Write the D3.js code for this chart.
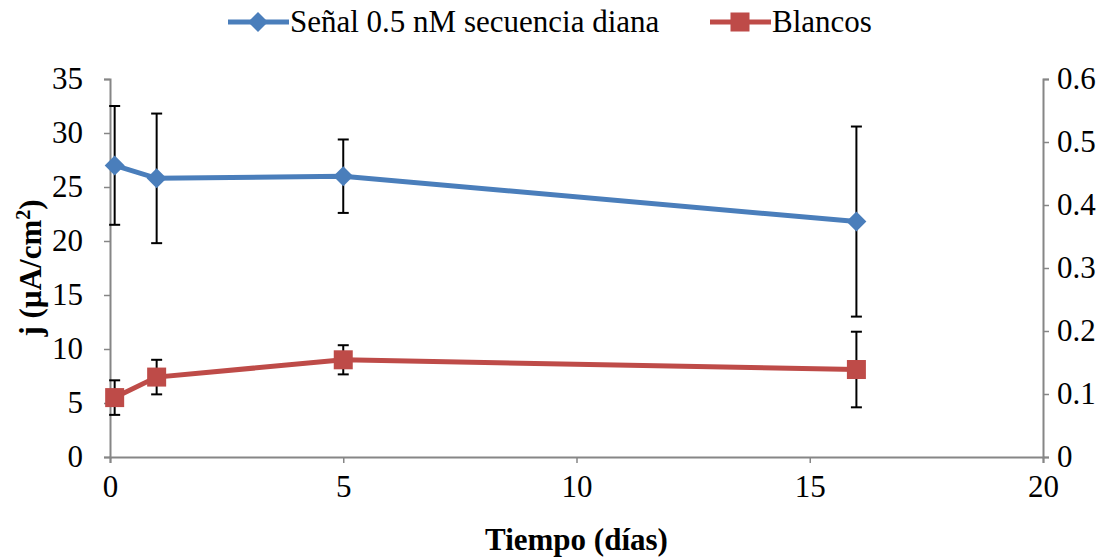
<!DOCTYPE html>
<html>
<head>
<meta charset="utf-8">
<script src="https://cdn.jsdelivr.net/npm/d3@7"></script>
<style>
  body { margin: 0; background: #fff; }
  text { font-family: "Liberation Serif", "Times New Roman", serif; fill: #000; }
</style>
</head>
<body>
<div id="chart"></div>
<script>
// data
var dias = [0.1, 1, 5, 16];
var senal = [27.0, 25.8, 26.0, 21.8];
var senalErr = [5.5, 6.0, 3.4, 8.8];
var blancos = [5.5, 7.4, 9.0, 8.1];
var blancosErr = [1.6, 1.6, 1.35, 3.5];
var yTicks = [0, 5, 10, 15, 20, 25, 30, 35];
var y2Ticks = [0, 0.1, 0.2, 0.3, 0.4, 0.5, 0.6];
var xTicks = [0, 5, 10, 15, 20];

var W = 1117, H = 558;
var mLeft = 110, mRight = 1043, mTop = 79, mBottom = 457;
var fs = "31px";
var serif = "'Liberation Serif', 'Times New Roman', serif";

var svg = d3.select("#chart").append("svg")
    .attr("width", W)
    .attr("height", H)
    .attr("font-family", serif);

var x = d3.scaleLinear().domain([0, 20]).range([mLeft, mRight]);
var y = d3.scaleLinear().domain([0, 35]).range([mBottom, mTop]);
var y2 = d3.scaleLinear().domain([0, 0.6]).range([mBottom, mTop]);

var axisColor = "#868686";

// axes
var gx = svg.append("g").attr("transform", "translate(0," + mBottom + ")")
    .call(d3.axisBottom(x).tickValues(xTicks).tickSize(6).tickPadding(12).tickFormat(d3.format("d")));
var gy = svg.append("g").attr("transform", "translate(" + mLeft + ",0)")
    .call(d3.axisLeft(y).tickValues(yTicks).tickSize(6).tickPadding(21).tickFormat(d3.format("d")));
var gy2 = svg.append("g").attr("transform", "translate(" + mRight + ",0)")
    .call(d3.axisRight(y2).tickValues(y2Ticks).tickSize(6).tickPadding(8).tickFormat(function(d) { return d === 0 ? "0" : d3.format(".1f")(d); }));

[gx, gy, gy2].forEach(function(g) {
    g.attr("font-family", serif);
    g.select(".domain").attr("stroke", axisColor).attr("stroke-width", 2);
    g.selectAll(".tick line").attr("stroke", axisColor).attr("stroke-width", 1.5);
    g.selectAll(".tick text").style("font-size", fs).attr("fill", "#000")
        .style("font-family", serif);
});
gy.selectAll(".tick text").attr("dy", "0.32em");
gy2.selectAll(".tick text").attr("dy", "0.32em");

// axis titles
svg.append("text")
    .attr("x", (mLeft + mRight) / 2)
    .attr("y", 550)
    .attr("text-anchor", "middle")
    .style("font-size", fs)
    .style("font-weight", "bold")
    .text("Tiempo (días)");

var yt = svg.append("text")
    .attr("transform", "translate(41," + ((mTop + mBottom) / 2) + ") rotate(-90)")
    .attr("text-anchor", "middle")
    .style("font-size", fs)
    .style("font-weight", "bold");
yt.append("tspan").text("j (µA/cm");
yt.append("tspan").attr("dy", "-11").style("font-size", "20px").text("2");
yt.append("tspan").attr("dy", "11").text(")");

// series
var series = [
    { name: "Señal 0.5 nM secuencia diana", vals: senal, err: senalErr, color: "#4a7ebb", shape: "diamond" },
    { name: "Blancos", vals: blancos, err: blancosErr, color: "#be4b48", shape: "square" }
];

var line = d3.line()
    .x(function(d, i) { return x(dias[i]); })
    .y(function(d) { return y(d); });

function marker(g, shape, color) {
    if (shape === "diamond") {
        g.append("path").attr("d", "M0,-10L10,0L0,10L-10,0Z").attr("fill", color);
    } else {
        g.append("rect").attr("x", -9.5).attr("y", -9.5).attr("width", 19).attr("height", 19).attr("fill", color);
    }
}

series.forEach(function(s) {
    svg.append("path")
        .datum(s.vals)
        .attr("d", line)
        .attr("fill", "none")
        .attr("stroke", s.color)
        .attr("stroke-width", 5);

    // error bars
    s.vals.forEach(function(v, i) {
        var cx = x(dias[i]);
        var eb = svg.append("g").attr("stroke", "#000").attr("stroke-width", 2);
        eb.append("line").attr("x1", cx).attr("x2", cx).attr("y1", y(v + s.err[i])).attr("y2", y(v - s.err[i]));
        eb.append("line").attr("x1", cx - 5.5).attr("x2", cx + 5.5).attr("y1", y(v + s.err[i])).attr("y2", y(v + s.err[i]));
        eb.append("line").attr("x1", cx - 5.5).attr("x2", cx + 5.5).attr("y1", y(v - s.err[i])).attr("y2", y(v - s.err[i]));
    });

    s.vals.forEach(function(v, i) {
        var g = svg.append("g").attr("transform", "translate(" + x(dias[i]) + "," + y(v) + ")");
        marker(g, s.shape, s.color);
    });
});

// legend
var legendX = [228, 710];
series.forEach(function(s, i) {
    var lg = svg.append("g").attr("transform", "translate(" + legendX[i] + ",22)");
    lg.append("line").attr("x1", 0).attr("x2", 61).attr("stroke", s.color).attr("stroke-width", 5);
    var m = lg.append("g").attr("transform", "translate(30,0)");
    marker(m, s.shape, s.color);
    lg.append("text").attr("x", 62).attr("y", 0).attr("dy", "0.33em")
        .style("font-size", fs).text(s.name);
});
</script>
</body>
</html>
